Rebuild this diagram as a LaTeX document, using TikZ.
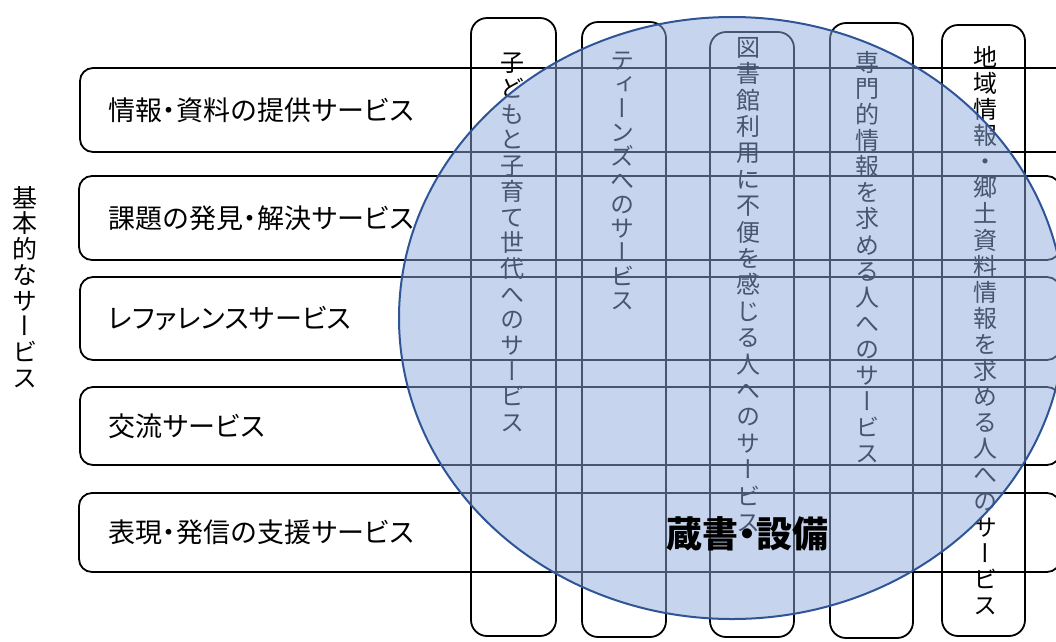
\documentclass[tikz,border=0pt]{standalone}
\usepackage{fontspec}
\newfontfamily\jp[RawFeature=+palt, LetterSpace=1]{Noto Sans CJK JP}
\newfontfamily\vjp[RawFeature=+vert]{Noto Sans CJK JP}
\newfontfamily\jpp[RawFeature=+palt]{Noto Sans CJK JP}
\definecolor{ellfill}{HTML}{8FAADC}
\definecolor{elldraw}{HTML}{2F5597}
\tikzset{
  box/.style={draw=black, line width=1.8pt, rounded corners=13pt},
  vbox/.style={draw=black, line width=1.8pt, rounded corners=16pt},
  htext/.style={anchor=west, inner sep=0pt, font=\fontsize{27}{30}\selectfont\jp},
  vtext/.style={anchor=north, inner sep=0pt, align=center, font=\fontsize{24}{26}\selectfont\vjp},
  lbltext/.style={anchor=north, inner sep=0pt, align=center, font=\fontsize{25}{25.7}\selectfont\vjp},
  circle label/.style={inner sep=0pt, font=\fontsize{36}{40}\selectfont\jpp\bfseries}
}
\begin{document}
\begin{tikzpicture}[x=1pt, y=-1pt]
\useasboundingbox (0,0) rectangle (1056,641);
\begin{scope}
\clip (0,0) rectangle (1056,641);
% horizontal boxes
\draw[box] (80,68) rectangle (1080,152);
\draw[box] (79,176) rectangle (1060,260);
\draw[box] (80,277) rectangle (1060,360);
\draw[box] (80,387) rectangle (1060,465);
\draw[box] (79,493) rectangle (1060,572);
% vertical boxes
\draw[vbox] (471,18) rectangle (556,636);
\draw[vbox] (582,22) rectangle (666,637);
\draw[vbox] (710,32) rectangle (794,637);
\draw[vbox] (830,23) rectangle (913,638);
\draw[vbox] (942,25) rectangle (1025,636);
% horizontal texts
\node[htext] (t1) at (108,110) {情報・資料の提供サービス};
\node[htext] (t2) at (108,218) {課題の発見・解決サービス};
\node[htext] (t3) at (108,318) {レファレンスサービス};
\node[htext] (t4) at (108,426) {交流サービス};
\node[htext] (t5) at (108,532) {表現・発信の支援サービス};
% left label
\node[lbltext] (basic) at (25,186) {基\\本\\的\\な\\サ\\ー\\ビ\\ス};
% vertical texts
\node[vtext, font=\fontsize{24}{25.7}\selectfont\vjp] (v1) at (512,53) {子\\ど\\も\\と\\子\\育\\て\\世\\代\\へ\\の\\サ\\ー\\ビ\\ス};
\node[vtext, font=\fontsize{24}{24}\selectfont\vjp] (v2) at (622,52) {テ\\ィ\\ー\\ン\\ズ\\へ\\の\\サ\\ー\\ビ\\ス};
\node[vtext, font=\fontsize{24}{26.4}\selectfont\vjp] (v3) at (748,37) {図\\書\\館\\利\\用\\に\\不\\便\\を\\感\\じ\\る\\人\\へ\\の\\サ\\ー\\ビ\\ス};
\node[vtext, font=\fontsize{24}{26.1}\selectfont\vjp] (v4) at (867,51) {専\\門\\的\\情\\報\\を\\求\\め\\る\\人\\へ\\の\\サ\\ー\\ビ\\ス};
\node[vtext, font=\fontsize{24}{26.1}\selectfont\vjp] (v5) at (985,46) {地\\域\\情\\報\\・\\郷\\土\\資\\料\\情\\報\\を\\求\\め\\る\\人\\へ\\の\\サ\\ー\\ビ\\ス};
% ellipse
\draw[fill=ellfill, fill opacity=0.5, draw=elldraw, line width=2pt] (732,318) ellipse [x radius=333, y radius=301];
\node[circle label] (stock) at (747,534) {蔵書・設備};
\end{scope}
\end{tikzpicture}
\end{document}
